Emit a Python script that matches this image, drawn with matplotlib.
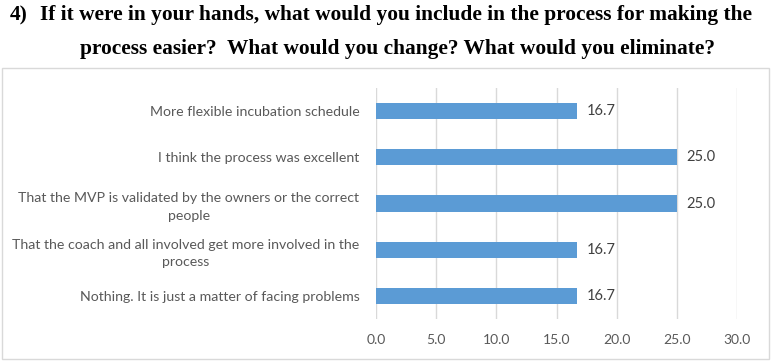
import matplotlib.pyplot as plt
from matplotlib.patches import Rectangle

labels = [
    "More flexible incubation schedule",
    "I think the process was excellent",
    "That the MVP is validated by the owners or the correct\npeople",
    "That the coach and all involved get more involved in the\nprocess",
    "Nothing. It is just a matter of facing problems",
]
values = [16.7, 25.0, 25.0, 16.7, 16.7]
xticks = [0, 5, 10, 15, 20, 25, 30]

fig = plt.figure(figsize=(7.71, 3.61), dpi=100)

# chart frame
fig.patches.append(Rectangle((2 / 771, 2 / 361), 767 / 771, 291 / 361,
                             transform=fig.transFigure, fill=False,
                             edgecolor="#d9d9d9", linewidth=1))

# title
tfont = dict(family="Liberation Serif", weight="bold", fontsize=15.4, color="black")
fig.text(10 / 771, 1 - 15 / 361, "4)", va="center", ha="left", **tfont)
fig.text(40 / 771, 1 - 15 / 361,
         "If it were in your hands, what would you include in the process for making the",
         va="center", ha="left", **tfont)
fig.text(80 / 771, 1 - 49 / 361,
         "process easier?  What would you change? What would you eliminate?",
         va="center", ha="left", **tfont)

ax = fig.add_axes([376 / 771, 42 / 361, 361 / 771, 231 / 361])
y = list(range(len(labels)))
ax.barh(y, values, height=0.35, color="#5b9bd5", zorder=3)
for yi, v in zip(y, values):
    ax.text(v + 0.8, yi, f"{v:.1f}", va="center", ha="left",
            fontsize=10.5, color="#404040", family="Lato")

ax.set_xlim(0, 30)
ax.set_ylim(len(labels) - 0.5, -0.5)
ax.set_xticks(xticks)
ax.set_xticklabels([f"{t:.1f}" for t in xticks], fontsize=10, color="#595959", family="Lato")
ax.set_yticks(y)
ax.set_yticklabels(labels, fontsize=10.2, color="#595959", family="Lato",
                   multialignment="center", linespacing=1.5)
ax.tick_params(axis="both", length=0)
ax.tick_params(axis="y", pad=12)
ax.tick_params(axis="x", pad=11)
ax.grid(axis="x", color="#d9d9d9", linewidth=1, zorder=0)
for s in ax.spines.values():
    s.set_visible(False)

fig.savefig("out.png", dpi=100)
